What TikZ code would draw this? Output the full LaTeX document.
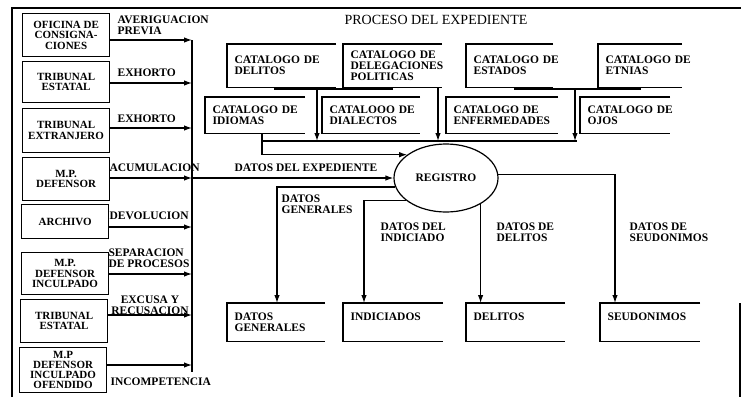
\documentclass[tikz,border=0pt]{standalone}
\usepackage{fontspec}
\setmainfont{Liberation Serif}
\usetikzlibrary{arrows.meta,shapes.geometric}
\newcommand\lab{\bfseries\fontsize{11}{10.5}\selectfont}
\newcommand\labo{\bfseries\fontsize{11.5}{11}\selectfont}
\newcommand\labs{\bfseries\fontsize{11}{10}\selectfont}
\newcommand\ttl{\fontsize{14}{15}\selectfont}
\begin{document}
\begin{tikzpicture}[x=1pt,y=-1pt,line width=1.2pt,
  lbox/.style={draw,align=center,font=\lab,minimum width=87pt,inner sep=1pt,anchor=north west},
  obox/.style={anchor=north west,align=left,font=\labo,inner xsep=7pt,inner ysep=0pt,text width=110pt},
  lbl/.style={font=\labo,align=left,inner sep=0pt,anchor=north west},
  arr/.style={-{Latex[length=8pt,width=5.5pt]}},
]
\useasboundingbox (0,0) rectangle (741,397);
% frame
\draw (12,397) -- (12,8) -- (741,8);
\draw (740,303) -- (740,397);

% title
\node[font=\ttl,anchor=west,inner sep=0pt] (title) at (344,20) {PROCESO DEL EXPEDIENTE};

% left boxes
\node[lbox,minimum height=43pt] (b1) at (22,13) {OFICINA DE\\CONSIGNA-\\CIONES};
\node[lbox,minimum height=41pt] (b2) at (22,61) {TRIBUNAL\\ESTATAL};
\node[lbox,minimum height=44pt] (b3) at (22,108) {TRIBUNAL\\EXTRANJERO};
\node[lbox,minimum height=43pt] (b4) at (22,157) {M.P.\\DEFENSOR};
\node[lbox,minimum height=34pt] (b5) at (21,204) {ARCHIVO};
\node[lbox,minimum height=42pt] (b6) at (21,252) {M.P.\\DEFENSOR\\INCULPADO};
\node[lbox,minimum height=43pt] (b7) at (20,299) {TRIBUNAL\\ESTATAL};
\node[lbox,minimum height=45pt,font=\labs] (b8) at (19,347) {M.P\\DEFENSOR\\INCULPADO\\OFENDIDO};

% bus coordinates
\coordinate (k1) at (192,40);
\coordinate (k2) at (192,83);
\coordinate (k3) at (192,128);
\coordinate (k4) at (192,178);
\coordinate (k5) at (192,227);
\coordinate (k6) at (192,274);
\coordinate (k7) at (192,315);
\coordinate (k8) at (192,365);
\coordinate (kend) at (192,372);
\draw (k1) -- (kend);
\foreach \i in {1,...,8} {\draw[arr] (b\i.east |- k\i) -- (k\i);}

% left labels
\node[lbl] (l1) at (117,15) {AVERIGUACION\\PREVIA};
\node[lbl] (l2) at (117,68) {EXHORTO};
\node[lbl] (l3) at (117,114) {EXHORTO};
\node[lbl] (l4) at (109,163) {ACUMULACION};
\node[lbl] (l5) at (109,211) {DEVOLUCION};
\node[lbl] (l6) at (108,248) {SEPARACION\\DE PROCESOS};
\node[lbl,align=center,anchor=north] (l7) at (150,295) {EXCUSA Y\\RECUSACION};
\node[lbl] (l8) at (110,377) {INCOMPETENCIA};

% catalog row 1
\node[obox,minimum height=42pt] (c1) at (227,44) {CATALOGO DE\\DELITOS};
\node[obox,minimum height=42pt] (c2) at (343,44) {CATALOGO DE\\DELEGACIONES\\POLITICAS};
\node[obox,minimum height=42pt] (c3) at (466,44) {CATALOGO DE\\ESTADOS};
\node[obox,minimum height=42pt] (c4) at (598,44) {CATALOGO DE\\ETNIAS};
% catalog row 2
\node[obox,minimum height=35pt] (d1) at (205,97) {CATALOGO DE\\IDIOMAS};
\node[obox,minimum height=35pt] (d2) at (322,97) {CATALOOO DE\\DIALECTOS};
\node[obox,minimum height=35pt] (d3) at (446,97) {CATALOGO DE\\ENFERMEDADES};
\node[obox,minimum height=35pt] (d4) at (580,97) {CATALOGO DE\\OJOS};
% bottom stores
\node[obox,minimum height=37pt] (e1) at (227,303) {DATOS\\GENERALES};
\node[obox,minimum height=37pt] (e2) at (343,303) {INDICIADOS\\\phantom{X}};
\node[obox,minimum height=37pt] (e3) at (466,303) {DELITOS\\\phantom{X}};
\node[obox,minimum height=37pt] (e4) at (600,303) {SEUDONIMOS\\\phantom{X}};
\foreach \n/\w in {c1/109,c2/99,c3/87,c4/84,d1/100,d2/98,d3/112,d4/90,e1/98,e2/100,e3/99,e4/100}
  {\draw (\n.north west) ++(\w,0) -- (\n.north west) -- (\n.south west) -- ++(\w,0);}

% registro
\node[draw,ellipse,minimum width=104pt,minimum height=68pt,inner sep=0pt,font=\labo] (reg) at (446,178) {REGISTRO};

% catalog connectors
\coordinate (p1) at (275,89);
\coordinate (p2) at (392,89);
\coordinate (j1) at (317,89);
\coordinate (q1) at (515,89);
\coordinate (q2) at (640,89);
\coordinate (j2) at (575,89);
\coordinate (m2) at (438,141);
\coordinate (col) at (262,141);
\coordinate (colend) at (577,141);
\draw (p1 |- c1.south) -- (p1) -- (p2) -- (p2 |- c2.south);
\draw (q1 |- c3.south) -- (q1) -- (q2) -- (q2 |- c4.south);
\draw (col) -- (colend);
\draw[arr] (j1) -- (j1 |- col);
\draw[arr] (m2 |- c2.south) -- (m2);
\draw[arr] (j2) -- (j2 |- col);
\draw[arr] (col |- d1.south) |- (reg.149);

% datos del expediente
\draw[arr] (k4) -- (reg.west);
\node[lbl] (lexp) at (234,163) {DATOS DEL EXPEDIENTE};

% outputs
\coordinate (t1) at (277,303);
\coordinate (t2) at (364,303);
\coordinate (t4) at (615,303);
\draw[arr] (reg.190) -| (t1);
\draw[arr] (reg.209) -| (t2);
\draw[arr] (reg.-37) -- (reg.-37 |- e3.north);
\draw[arr] (reg.4) -| (t4);

\node[lbl] (o1) at (281,194) {DATOS\\GENERALES};
\node[lbl] (o2) at (380,222) {DATOS DEL\\INDICIADO};
\node[lbl] (o3) at (496,222) {DATOS DE\\DELITOS};
\node[lbl] (o4) at (629,222) {DATOS DE\\SEUDONIMOS};
\end{tikzpicture}
\end{document}
